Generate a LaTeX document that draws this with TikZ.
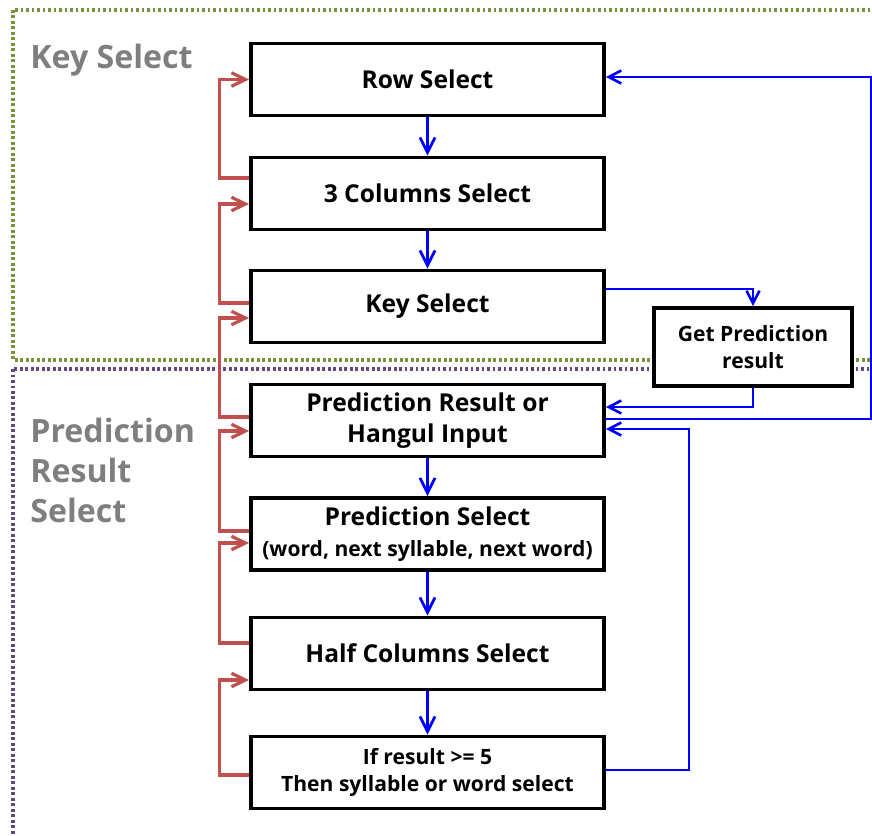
\documentclass[tikz,border=0pt]{standalone}
\usepackage{fontspec}
\setmainfont{Open Sans}
\usepackage{xcolor}
\usetikzlibrary{arrows.meta}

\definecolor{backred}{HTML}{C0504D}
\definecolor{keygreen}{HTML}{77933C}
\definecolor{predpurple}{HTML}{604A7B}
\definecolor{titlegray}{HTML}{7F7F7F}

\begin{document}
\begin{tikzpicture}[x=0.02cm, y=-0.02cm,
   box/.style={rectangle, draw, fill=white, line width=2.2pt, minimum width=7.06cm, minimum height=1.44cm, align=center, font=\bfseries\fontsize{14}{18}\selectfont},
   smallbox/.style={box, font=\bfseries\fontsize{12}{15.5}\selectfont},
   fwd/.style={-{Straight Barb[length=3mm,width=3mm]}, blue, line width=1.6pt},
   jump/.style={-{Straight Barb[length=2.5mm,width=2.6mm]}, blue, line width=1.5pt},
   back/.style={-{Straight Barb[length=2.8mm,width=2.7mm]}, backred, line width=1.8pt},
   area/.style={line width=0.65mm, dash pattern=on 0.55mm off 0.55mm},
   grouptitle/.style={text=titlegray, font=\bfseries\fontsize{18.3}{22.8}\selectfont, align=left, inner sep=0pt}]
   \useasboundingbox (0,0) rectangle (872,835);
   \clip (0,0) rectangle (872,835);
   % dotted areas
   \draw[area, keygreen] (13,10) rectangle (900,360);
   \draw[area, predpurple] (13,369) rectangle (900,900);

   \node[grouptitle, anchor=base west] (keytitle) at (30,68) {Key Select};
   \node[grouptitle, anchor=north west] (predtitle) at (30,418) {Prediction\\Result\\Select};

   \node[box] (row) at (427.5,79.5) {Row Select};
   \node[box] (cols) at (427.5,193.5) {3 Columns Select};
   \node[box] (key) at (427.5,306.5) {Key Select};
   \node[box] (result) at (427.5,420.5) {Prediction Result or\\Hangul Input};
   \node[box] (predsel) at (427.5,534) {Prediction Select\\{\fontsize{12}{15}\selectfont (word, next syllable, next word)}};
   \node[box] (half) at (427.5,653.5) {Half Columns Select};
   \node[smallbox] (ifres) at (427.5,772.5) {If result >= 5\\Then syllable or word select};
   \node[smallbox, minimum width=3.96cm, minimum height=1.56cm] (getpred) at (753,347) {Get Prediction\\result};

   % going down
   \path (row) edge[fwd] (cols);
   \path (cols) edge[fwd] (key);
   \path (result) edge[fwd] (predsel);
   \path (predsel) edge[fwd] (half);
   \path (half) edge[fwd] (ifres);
   \draw[jump] ([yshift=3.5mm]key.east) -| (getpred.north);
   \draw[jump] (getpred.south) |- ([yshift=2.7mm]result.east);
   \draw[jump] ([yshift=0.3mm]result.east) -- ++(265,0) |- ([yshift=0.5mm]row.east);
   \draw[jump] ([yshift=0.5mm]ifres.east) -- ++(83,0) |- ([yshift=-1.7mm]result.east);

   % going back
   \draw[back] ([yshift=3.1mm]cols.west) -- ++(-30,0) |- (row.west);
   \draw[back] ([yshift=0.7mm]key.west) -- ++(-30,0) |- ([yshift=-2.1mm]cols.west);
   \draw[back] ([yshift=0.7mm]result.west) -- ++(-30,0) |- ([yshift=-2.3mm]key.west);
   \draw[back] ([yshift=0.6mm]predsel.west) -- ++(-30,0) |- ([yshift=-2.1mm]result.west);
   \draw[back] ([yshift=2.1mm]half.west) -- ++(-30,0) |- ([yshift=-1.8mm]predsel.west);
   \draw[back] ([yshift=-0.5mm]ifres.west) -- ++(-30,0) |- ([yshift=-5.3mm]half.west);
\end{tikzpicture}
\end{document}
